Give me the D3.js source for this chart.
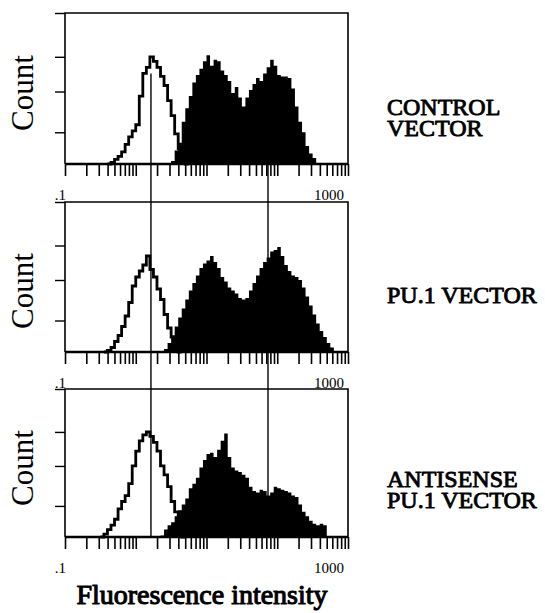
<!DOCTYPE html>
<html>
<head>
<meta charset="utf-8">
<script src="https://cdn.jsdelivr.net/npm/d3@7"></script>
<style>
  html, body { margin: 0; padding: 0; background: #fff; }
  svg { display: block; }
  text { font-family: "Liberation Serif", "Times New Roman", serif; fill: #000; }
</style>
</head>
<body>
<svg id="chart" width="545" height="613"></svg>
<script>
// Histogram data: 80 log-spaced bins from .1 to 1000, counts (0-100 scale)
const binCount = 80;
const xDomain = [0.1, 1000];
const xTickLabels = [".1", "1000"];
const countTicks = [21, 48, 71, 100];
const cursorValues = [1.64, 74];
const panelNames = [["CONTROL", "VECTOR"], ["PU.1 VECTOR"], ["ANTISENSE", "PU.1 VECTOR"]];
const axisTitle = "Fluorescence intensity";
const countLabel = "Count";

const controlOpen = [
  0,0,0,0,0,0,0,0,0,0,
  0,0,0,1,3,5,8,13,18,22,
  26,45,60,64,71,68,64,58,52,42,
  32,20,10,3,0,0,0,0,0,0,
  0,0,0,0,0,0,0,0,0,0,
  0,0,0,0,0,0,0,0,0,0,
  0,0,0,0,0,0,0,0,0,0,
  0,0,0,0,0,0,0,0,0,0
];
const controlFilled = [
  0,0,0,0,0,0,0,0,0,0,
  0,0,0,0,0,0,0,0,0,0,
  0,0,0,0,0,0,0,0,0,0,
  2,9,14,28,37,45,54,59,63,68,
  72,65,69,68,62,59,55,47,51,44,
  38,44,49,53,57,55,60,64,69,65,
  59,58,58,57,50,38,28,21,12,7,
  4,0,0,0,0,0,0,0,0,0
];
const pu1Open = [
  0,0,0,0,0,0,0,0,0,0,
  0,0,1,3,7,11,17,24,33,44,
  50,54,58,64,55,50,42,35,25,16,
  10,4,0,0,0,0,0,0,0,0,
  0,0,0,0,0,0,0,0,0,0,
  0,0,0,0,0,0,0,0,0,0,
  0,0,0,0,0,0,0,0,0,0,
  0,0,0,0,0,0,0,0,0,0
];
const pu1Filled = [
  0,0,0,0,0,0,0,0,0,0,
  0,0,0,0,0,0,0,0,0,0,
  0,0,0,0,0,0,0,0,2,6,
  11,17,23,29,35,41,46,51,56,59,
  61,64,60,56,50,47,43,41,39,36,
  35,36,41,46,51,56,60,63,67,68,
  70,64,58,54,51,50,48,43,37,31,
  25,19,14,10,6,3,0,0,0,0
];
const antiOpen = [
  0,0,0,0,0,0,0,0,0,0,
  0,2,5,8,12,19,24,28,36,48,
  58,65,69,71,68,64,58,48,42,34,
  24,17,8,0,0,0,0,0,0,0,
  0,0,0,0,0,0,0,0,0,0,
  0,0,0,0,0,0,0,0,0,0,
  0,0,0,0,0,0,0,0,0,0,
  0,0,0,0,0,0,0,0,0,0
];
const antiFilled = [
  0,0,0,0,0,0,0,0,0,0,
  0,0,0,0,0,0,0,0,0,0,
  0,0,0,0,0,0,0,1,5,8,
  10,14,18,22,26,33,36,40,47,52,
  56,57,54,59,65,70,54,47,45,44,
  42,40,34,31,30,32,31,28,30,34,
  33,32,31,30,28,27,22,17,14,11,
  9,8,9,8,0,0,0,0,0,0
];

const svg = d3.select("#chart");
const left = 65, right = 348;

// panel layout (positions only)
const panels = [
  { top: 13,  bottom: 164, open: controlOpen, filled: controlFilled, name: panelNames[0], nameY: 115, countY: 93 },
  { top: 202, bottom: 352, open: pu1Open,     filled: pu1Filled,     name: panelNames[1], nameY: 303, countY: 291 },
  { top: 389, bottom: 537, open: antiOpen,    filled: antiFilled,    name: panelNames[2], nameY: 487, countY: 468 }
];

const x = d3.scaleLog().domain(xDomain).range([left, right]);
const lo = Math.log10(xDomain[0]), hi = Math.log10(xDomain[1]);
const binEdge = i => Math.pow(10, lo + i * (hi - lo) / binCount);

// log ticks: 1..9 in each decade plus the last one
const xTicks = [];
for (let d = lo; d < hi; d++) {
  for (let k = 1; k <= 9; k++) xTicks.push(k * Math.pow(10, d));
}
xTicks.push(xDomain[1]);

// step points for a histogram, trimmed to where it has counts
function stepPoints(counts) {
  let a = counts.findIndex(c => c > 0);
  let b = counts.length - 1 - [...counts].reverse().findIndex(c => c > 0);
  a = Math.max(0, a - 1);
  b = Math.min(counts.length - 1, b + 1);
  const pts = [];
  for (let i = a; i <= b; i++) pts.push([binEdge(i), counts[i]]);
  pts.push([binEdge(b + 1), counts[b]]);
  return pts;
}

// no bold serif face here, so thicken regular glyphs with a stroke
function boldText(sel, w) {
  return sel.attr("stroke", "#000").attr("stroke-width", w).attr("stroke-linejoin", "round");
}

panels.forEach((p, pi) => {
  const y = d3.scaleLinear().domain([0, 100]).range([p.bottom, p.top]);
  p.y = y;
  const g = svg.append("g").attr("class", "panel");

  // filled histogram
  const area = d3.area()
    .x(d => x(d[0]))
    .y0(y(0))
    .y1(d => y(d[1]))
    .curve(d3.curveStepAfter);
  g.append("path")
    .attr("d", area(stepPoints(p.filled)))
    .attr("fill", "#000");

  // open (control) histogram
  const line = d3.line()
    .x(d => x(d[0]))
    .y(d => y(d[1]))
    .curve(d3.curveStepAfter);
  g.append("path")
    .attr("d", line(stepPoints(p.open)))
    .attr("fill", "none")
    .attr("stroke", "#000")
    .attr("stroke-width", 2.8);

  // box: left, top, right
  g.append("path")
    .attr("d", `M${left},${p.bottom}V${p.top}H${right}V${p.bottom}`)
    .attr("fill", "none")
    .attr("stroke", "#000")
    .attr("stroke-width", 1.6);

  // x axis ticks
  const xAxis = g.append("g")
    .attr("transform", `translate(0,${p.bottom})`)
    .call(d3.axisBottom(x).tickValues(xTicks).tickSize(12).tickFormat(""));
  xAxis.select(".domain").remove();
  xAxis.selectAll("line").attr("stroke-width", 1.6);

  g.append("line")
    .attr("x1", left).attr("x2", right)
    .attr("y1", p.bottom).attr("y2", p.bottom)
    .attr("stroke", "#000")
    .attr("stroke-width", 2.6);

  // y axis ticks
  const yAxis = g.append("g")
    .attr("transform", `translate(${left},0)`)
    .call(d3.axisLeft(y).tickValues(countTicks).tickSize(10).tickFormat(""));
  yAxis.select(".domain").remove();
  yAxis.selectAll("line").attr("stroke-width", 1.4);

  // end labels
  g.append("text")
    .attr("x", left + 1).attr("y", p.bottom + 36)
    .attr("text-anchor", "end")
    .attr("font-size", 15)
    .text(xTickLabels[0]);
  g.append("text")
    .attr("x", right - 4).attr("y", p.bottom + 36)
    .attr("text-anchor", "end")
    .attr("font-size", 15)
    .text(xTickLabels[1]);

  // Count label
  g.append("text")
    .attr("transform", `translate(33,${p.countY}) rotate(-90)`)
    .attr("text-anchor", "middle")
    .attr("font-size", 31)
    .text(countLabel);

  // panel name on the right, one text per line
  p.name.forEach((s, i) => {
    boldText(g.append("text"), 0.9)
      .attr("x", 387)
      .attr("y", p.nameY + i * 21)
      .attr("font-size", 24)
      .text(s);
  });
});

// vertical cursor lines running through all three panels
cursorValues.forEach(v => {
  svg.append("line")
    .attr("x1", x(v)).attr("x2", x(v))
    .attr("y1", panels[0].y(60))
    .attr("y2", panels[2].bottom)
    .attr("stroke", "#000")
    .attr("stroke-width", 1.4);
});

// bottom axis title
boldText(svg.append("text"), 1.1)
  .attr("x", 202).attr("y", 604)
  .attr("text-anchor", "middle")
  .attr("font-size", 28)
  .text(axisTitle);
</script>
</body>
</html>
